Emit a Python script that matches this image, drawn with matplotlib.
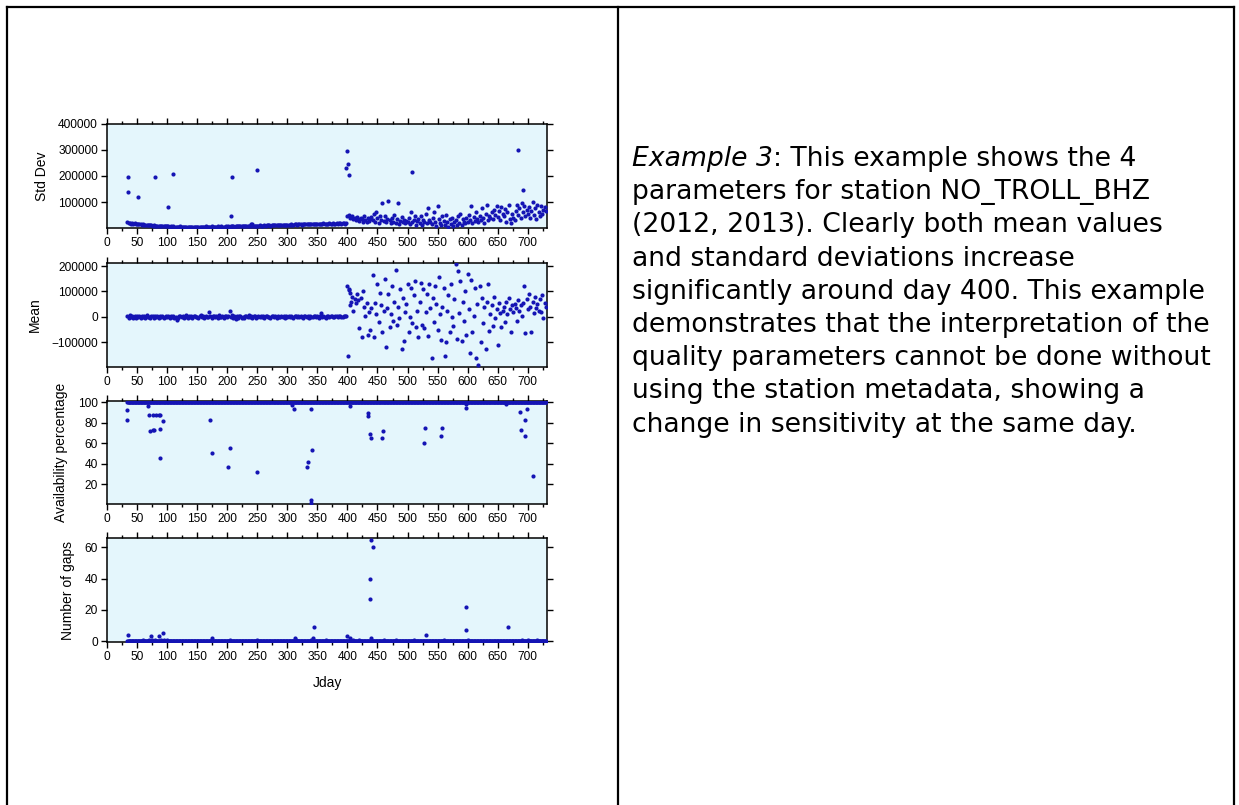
import numpy as np
import matplotlib.pyplot as plt
from matplotlib.lines import Line2D
from matplotlib.ticker import MultipleLocator, FixedLocator

# --- data ---
# std dev, thousands, every second day from day 34 to day 730
std_days = np.arange(34, 731, 2)
std_k = [22,18,20,17,19,16,18,15,17,
         15,14,16,13,14,12,13,11,12,10,11,10,9,10,9,8,9,8,8,7,8,7,7,6,7,
         6,5,6,5,6,5,5,4,5,5,6,5,4,5,5,4,5,5,4,5, 5,4,5,4,5,5,4,5,4,5,
         5,6,5,4,5,5,6,5,5,4, 5,6,5,5,6,5,4,5,6,5,
         6,5,6,7,6,5,6,7,6,7, 7,6,7,8,7,6,7,8,9,16, 8,7,8,9,8,9,10,9,8,9,
         10,9,10,11,10,9,10,11,12,11, 10,11,12,11,12,13,12,11,12,13,
         13,12,14,13,12,14,15,13,14,15, 14,13,15,16,14,15,14,16,15,17,
         15,14,16,15,17,16,15,17,16,18, 16,17,15,16,18,17,16,18,17,16,
         18,17,19,18,17,19,18,17,19,
         45,50,38,42,48,35,40,30,44,36, 28,40,33,25,45,30,22,38,27,35,
         42,30,55,25,60,38,20,48,32,95, 28,45,22,35,105,30,18,40,25,50,
         20,35,98,15,28,42,22,30,18,26, 25,38,15,60,22,30,45,12,28,35,
         20,48,10,32,25,55,18,75,30,22, 15,40,62,25,8,85,35,20,12,45,
         28,10,50,22,5,35,15,40,8,25, 30,12,45,20,55,10,35,25,18,40,
         22,50,30,85,18,42,28,60,35,25, 45,30,75,38,20,55,88,32,48,40,
         60,35,70,50,85,42,65,30,80,55, 45,72,25,60,88,35,20,55,40,30,
         65,90,50,75,40,95,60,85,45,70, 55,80,40,65,100,50,75,35,90,60,
         45,85,55,70,80,65]
std_out_days = [35, 35, 52, 80, 101, 110, 206, 208, 242, 250, 398, 399, 401, 402, 507, 683, 692]
std_out_k = [195, 140, 120, 197, 82, 207, 45, 195, 15, 222, 230, 297, 245, 205, 215, 300, 145]

# mean, thousands, same days as std dev
mean_days = np.arange(34, 731, 2)
mean_k = [3,-4,6,-2,5,-5,2,-3,4,
          -2,5,-4,3,-1,4,-3,6,-2,1,-5,3,2,-3,4,-1,5,-4,2,-2,3,-3,1,4,-2,
          3,-4,2,-1,5,-3,1,-12,-6,2,4,-2,3,-5,1,6,-3,2,-1,4, -4,3,5,-2,1,-3,4,6,-1,2,
          -3,5,1,-2,20,3,-4,2,5,-1, 3,-3,6,1,-2,4,-5,2,3,-1,
          5,25,-2,6,-4,3,-8,4,-6,2, 5,-3,1,-5,4,2,-2,6,-1,3, -4,5,2,-3,1,4,-2,3,-1,5,
          -3,2,4,-2,1,-4,3,5,-1,2, -3,4,1,-2,5,-1,3,-4,2,1,
          3,-2,4,1,-3,5,2,-1,4,-2, 3,1,-4,5,2,-1,3,-3,4,1, -2,5,3,-1,2,-3,4,15,-2,3,
          1,-4,5,2,-1,3,4,-2,1,3, 2,-1,4,3,1,-2,5,2,4,
          120,110,95,60,80,25,70,55,90,65, -45,75,-80,100,40,5,55,-70,20,-50,
          35,165,-80,55,10,130,-20,95,45,-60, 25,150,-120,35,90,-40,10,120,-15,60,
          185,-30,40,-5,110,-125,75,-95,20,50, 130,-60,0,115,-25,85,140,-40,25,-80,
          60,135,-30,110,-45,20,90,-75,130,35, -160,75,-20,120,50,-50,155,10,-90,40,
          115,-155,-100,25,85,-60,130,0,-35,70, 210,-85,180,15,140,-95,60,-15,100,-70,
          170,30,-140,145,-60,5,115,-160,50,-190, 120,-100,75,-25,40,-125,60,130,-55,10,
          45,-35,80,-5,30,-110,55,15,-40,25, 40,-20,60,10,75,30,-60,45,20,50,
          35,-15,65,25,45,5,55,120,-65,70, 30,90,40,-60,60,15,80,35,50,25,
          70,20,85,-5,55,40]
mean_out_days = [401, 403, 405]
mean_out_k = [-155, 105, 45]

# availability: 100 % on every day except the ones listed
avail_days = np.arange(34, 731)
avail_low_days = [34, 34, 69, 70, 76, 81, 87, 89, 71, 76, 78, 88, 93, 89,
                  172, 174, 201, 205, 250, 307, 311, 339, 334, 332, 341, 340, 340,
                  405, 434, 434, 437, 440, 458, 459, 528, 529, 555, 557,
                  597, 597, 664, 687, 689, 695, 696, 698, 708]
avail_low_vals = [92, 83, 96, 87, 87, 87, 87, 87, 72, 73, 73, 74, 82, 46,
                  83, 51, 37, 55, 32, 97, 93, 93, 42, 37, 53, 5, 2,
                  96, 89, 86, 69, 65, 65, 72, 60, 75, 67, 75,
                  98, 94, 98, 90, 73, 83, 67, 93, 28]

# number of gaps: 0 on every day except the ones listed
gaps_days = np.arange(34, 731)
gaps_hit_days = [35, 73, 87, 93, 175, 313, 344, 343, 400, 405, 438, 437, 440, 442, 440,
                 531, 598, 598, 667,
                 60, 70, 75, 80, 90, 95, 100, 205, 250, 315, 340, 365, 410, 420,
                 460, 480, 510, 560, 600, 690, 700, 715]
gaps_hit_vals = [4, 3, 3, 5, 2, 2, 9, 2, 3, 2, 27, 40, 65, 60, 2,
                 4, 22, 7, 9,
                 1, 1, 1, 1, 1, 1, 1, 1, 1, 1, 1, 1, 1, 1,
                 1, 1, 1, 1, 1, 1, 1, 1]

text_lines = ["parameters for station NO_TROLL_BHZ",
              "(2012, 2013). Clearly both mean values",
              "and standard deviations increase",
              "significantly around day 400. This example",
              "demonstrates that the interpretation of the",
              "quality parameters cannot be done without",
              "using the station metadata, showing a",
              "change in sensitivity at the same day."]

W, H = 1239, 805
BG = "#e4f6fc"
DOT = "#1414b4"
TICKFONT = dict(family="Liberation Sans", size=8.6)
LABELFONT = dict(family="Liberation Sans", size=10)

fig = plt.figure(figsize=(W / 100, H / 100), dpi=100)


def panel(top, bottom):
    ax = fig.add_axes([107 / W, 1 - bottom / H, (547 - 107) / W, (bottom - top) / H])
    ax.set_facecolor(BG)
    ax.set_xlim(0, 732)
    ax.xaxis.set_minor_locator(MultipleLocator(25))
    ax.tick_params(which="both", direction="out", top=True, right=True,
                   width=1, pad=2.5)
    ax.tick_params(which="major", length=4)
    ax.tick_params(which="minor", length=2)
    for sp in ax.spines.values():
        sp.set_linewidth(1.1)
    ax.set_xticks(np.arange(0, 701, 50))
    ax.set_xticklabels([str(v) for v in range(0, 701, 50)], **TICKFONT)
    return ax


def dots(ax, x, y):
    ax.scatter(x, y, s=9, color=DOT, linewidths=0, zorder=3)


ax1 = panel(124, 228)
dots(ax1, std_days, np.array(std_k) * 1000)
dots(ax1, std_out_days, np.array(std_out_k) * 1000)
ax1.set_ylim(0, 400000)
ax1.yaxis.set_major_locator(FixedLocator([100000, 200000, 300000, 400000]))
ax1.set_yticklabels(["100000", "200000", "300000", "400000"], **TICKFONT)
ax1.set_ylabel("Std Dev", labelpad=7, **LABELFONT)

ax2 = panel(263, 367)
dots(ax2, mean_days, np.array(mean_k) * 1000)
dots(ax2, mean_out_days, np.array(mean_out_k) * 1000)
ax2.set_ylim(-197000, 212000)
ax2.yaxis.set_major_locator(FixedLocator([-100000, 0, 100000, 200000]))
ax2.set_yticklabels(["\u2212100000", "0", "100000", "200000"], **TICKFONT)
ax2.set_ylabel("Mean", labelpad=7, **LABELFONT)

ax3 = panel(401, 504)
avail = np.full(len(avail_days), 100.0)
dots(ax3, avail_days, avail)
dots(ax3, avail_low_days, avail_low_vals)
ax3.set_ylim(1, 101)
ax3.yaxis.set_major_locator(FixedLocator([20, 40, 60, 80, 100]))
ax3.set_yticklabels(["20", "40", "60", "80", "100"], **TICKFONT)
ax3.set_ylabel("Availability percentage", labelpad=7, **LABELFONT)

ax4 = panel(538, 642)
gaps = np.zeros(len(gaps_days))
dots(ax4, gaps_days, gaps)
dots(ax4, gaps_hit_days, gaps_hit_vals)
ax4.set_ylim(-0.6, 66)
ax4.yaxis.set_major_locator(FixedLocator([0, 20, 40, 60]))
ax4.set_yticklabels(["0", "20", "40", "60"], **TICKFONT)
ax4.set_ylabel("Number of gaps", labelpad=7, **LABELFONT)
ax4.set_xlabel("Jday", labelpad=9, **LABELFONT)

# table borders
for (x0, y0, x1, y1) in [(7, 7, 1234, 7), (7, 7, 7, 805), (618, 7, 618, 805), (1234, 7, 1234, 805)]:
    fig.add_artist(Line2D([x0 / W, x1 / W], [1 - y0 / H, 1 - y1 / H], color="black",
                          linewidth=1.6, transform=fig.transFigure))

# right-hand description text
TX = 632 / W
FS = 19.2
first = fig.text(TX, 1 - 166 / H, "Example 3", fontsize=FS, style="italic",
                 family="DejaVu Sans", va="baseline")
fig.canvas.draw()
bb = first.get_window_extent()
fig.text(bb.x1 / W, 1 - 166 / H, ": This example shows the 4", fontsize=FS,
         family="DejaVu Sans", va="baseline")
for i, line in enumerate(text_lines):
    fig.text(TX, 1 - (166 + 33.2 * (i + 1)) / H, line, fontsize=FS,
             family="DejaVu Sans", va="baseline")

fig.savefig("out.png", dpi=100)
